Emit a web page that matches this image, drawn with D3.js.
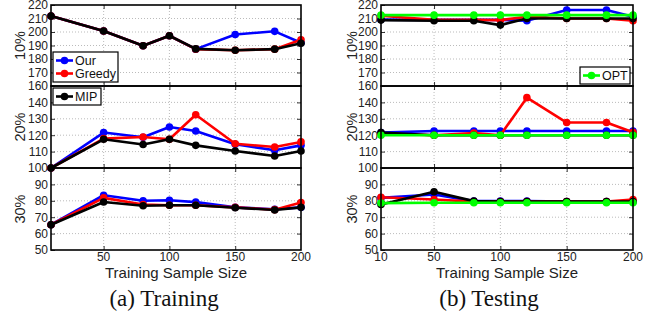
<!DOCTYPE html>
<html>
<head>
<meta charset="utf-8">
<script src="https://cdn.jsdelivr.net/npm/d3@7"></script>
<style>
  body { margin: 0; background: #fff; }
  svg { display: block; }
  .tick text { font-family: "Liberation Sans", Arial, sans-serif; font-size: 12px; fill: #222; }
  .domain { display: none; }
</style>
</head>
<body>
<div id="chart"></div>
<script>
// sample sizes on the x axis
var xVals = [10, 50, 80, 100, 120, 150, 180, 200];
var seriesNames = ["Our", "Greedy", "MIP", "OPT"];
var seriesColors = ["#0000ff", "#ff0000", "#000000", "#00ff00"];

// (a) training
var trainOur10 = [211.8, 200.7, 189.8, 197.2, 187.3, 198.2, 200.5, 192.0];
var trainGreedy10 = [211.8, 200.7, 189.8, 197.2, 187.3, 186.5, 187.3, 194.3];
var trainMIP10 = [211.8, 200.7, 189.8, 197.2, 187.5, 186.5, 187.3, 191.7];
var trainOur20 = [100, 121.6, 118.7, 125.0, 122.6, 114.5, 110.8, 113.8];
var trainGreedy20 = [100, 117.9, 118.9, 117.5, 132.5, 114.8, 112.8, 115.9];
var trainMIP20 = [100, 117.5, 114.3, 117.5, 113.8, 110.4, 107.3, 110.4];
var trainOur30 = [65.4, 83.4, 80.0, 80.3, 79.2, 76.0, 74.8, 76.0];
var trainGreedy30 = [65.4, 81.8, 77.7, 77.3, 77.3, 76.0, 74.6, 79.0];
var trainMIP30 = [65.4, 79.3, 77.0, 77.3, 77.3, 75.8, 74.4, 76.0];

// (b) testing
var testOur10 = [209.2, 209.0, 209.0, 209.0, 208.3, 216.3, 216.3, 211.3];
var testGreedy10 = [212.0, 209.0, 209.0, 208.8, 211.3, 210.0, 210.0, 208.3];
var testMIP10 = [208.8, 208.3, 208.3, 205.1, 210.0, 210.0, 210.0, 210.0];
var testOPT10 = [212.5, 212.5, 212.5, 212.5, 212.5, 212.5, 212.5, 212.5];
var testOur20 = [121.6, 122.6, 122.6, 122.6, 122.6, 122.6, 122.6, 122.6];
var testGreedy20 = [121.0, 120.0, 121.3, 120.0, 142.9, 127.7, 127.7, 121.8];
var testMIP20 = [121.6, 120.0, 120.0, 120.0, 120.0, 120.0, 120.0, 120.0];
var testOPT20 = [120, 120, 120, 120, 120, 120, 120, 120];
var testOur30 = [81.8, 83.8, 79.8, 79.8, 79.8, 79.6, 79.6, 79.6];
var testGreedy30 = [82.2, 80.8, 79.5, 79.5, 79.5, 79.5, 79.5, 80.8];
var testMIP30 = [77.7, 85.5, 79.8, 79.6, 79.6, 79.6, 79.6, 79.6];
var testOPT30 = [78.6, 78.8, 78.8, 78.8, 78.8, 78.8, 78.8, 78.8];

// per-row y ranges and labelled ticks
var rowLabels = ["10%", "20%", "30%"];
var rowDomains = [[160, 220], [100, 150], [50, 100]];
var rowTicks = [[160, 170, 180, 190, 200, 210, 220], [100, 110, 120, 130, 140], [50, 60, 70, 80, 90]];
var rowGrid = [[170, 180, 190, 200, 210], [110, 120, 130, 140], [60, 70, 80, 90]];
var xGrid = [50, 100, 150];

var W = 662, H = 322;
var rowTop = [5, 86, 168], rowBot = [86, 168, 250];

var svg = d3.select("#chart").append("svg").attr("width", W).attr("height", H);

var panels = [
  {x0: 51, x1: 301, xTicks: [50, 100, 150, 200], caption: "(a) Training", cx: 164, labelX: 19,
   rows: [[trainOur10, trainGreedy10, trainMIP10], [trainOur20, trainGreedy20, trainMIP20], [trainOur30, trainGreedy30, trainMIP30]]},
  {x0: 381, x1: 633, xTicks: [10, 50, 100, 150, 200], caption: "(b) Testing", cx: 489, labelX: 351,
   rows: [[testOur10, testGreedy10, testMIP10, testOPT10], [testOur20, testGreedy20, testMIP20, testOPT20], [testOur30, testGreedy30, testMIP30, testOPT30]]}
];

panels.forEach(function(p) {
  var x = d3.scaleLinear().domain([10, 200]).range([p.x0, p.x1]);

  p.rows.forEach(function(rowSeries, r) {
    var y = d3.scaleLinear().domain(rowDomains[r]).range([rowBot[r], rowTop[r]]);
    var g = svg.append("g");

    // grid
    g.selectAll(".hg").data(rowGrid[r]).enter().append("line")
      .attr("x1", p.x0).attr("x2", p.x1)
      .attr("y1", d => y(d)).attr("y2", d => y(d))
      .attr("stroke", "#aaa").attr("stroke-width", 0.8).attr("stroke-dasharray", "1,2");
    g.selectAll(".vg").data(xGrid).enter().append("line")
      .attr("x1", d => x(d)).attr("x2", d => x(d))
      .attr("y1", rowTop[r]).attr("y2", rowBot[r])
      .attr("stroke", "#aaa").attr("stroke-width", 0.8).attr("stroke-dasharray", "1,2");

    // axes (inward ticks)
    g.append("g").attr("transform", "translate(" + p.x0 + ",0)")
      .call(d3.axisLeft(y).tickValues(rowTicks[r]).tickSize(-4).tickPadding(3).tickFormat(d3.format("d")));
    g.append("g").attr("transform", "translate(" + p.x1 + ",0)")
      .call(d3.axisRight(y).tickValues(rowGrid[r]).tickSize(-4).tickFormat(""));
    g.append("g").attr("transform", "translate(0," + rowBot[r] + ")")
      .call(d3.axisBottom(x).tickValues(xGrid).tickSize(-4).tickFormat(""));
    g.append("g").attr("transform", "translate(0," + rowTop[r] + ")")
      .call(d3.axisTop(x).tickValues(xGrid).tickSize(-4).tickFormat(""));
    g.selectAll(".tick line").attr("stroke", "#000").attr("stroke-width", 0.8);

    // series
    var line = d3.line().x((d, i) => x(xVals[i])).y(d => y(d));
    rowSeries.forEach(function(vals, s) {
      g.append("path").datum(vals).attr("d", line)
        .attr("fill", "none").attr("stroke", seriesColors[s]).attr("stroke-width", 2.6)
        .attr("stroke-linejoin", "round");
      g.selectAll(".m" + s).data(vals).enter().append("circle")
        .attr("cx", (d, i) => x(xVals[i])).attr("cy", d => y(d)).attr("r", 3.8)
        .attr("fill", seriesColors[s]);
    });

    // box
    g.append("rect").attr("x", p.x0).attr("y", rowTop[r])
      .attr("width", p.x1 - p.x0).attr("height", rowBot[r] - rowTop[r])
      .attr("fill", "none").attr("stroke", "#000").attr("stroke-width", 1.6);

    // row label
    svg.append("text")
      .attr("transform", "translate(" + (p.labelX + 6) + "," + ((rowTop[r] + rowBot[r]) / 2) + ") rotate(-90)")
      .attr("text-anchor", "middle")
      .style("font-family", "Liberation Sans, Arial, sans-serif").style("font-size", "14.5px").style("fill", "#222")
      .text(rowLabels[r]);
  });

  // x tick labels
  svg.selectAll(null).data(p.xTicks).enter().append("text")
    .attr("x", d => x(d)).attr("y", 261).attr("text-anchor", "middle")
    .style("font-family", "Liberation Sans, Arial, sans-serif").style("font-size", "12px").style("fill", "#222")
    .text(d => d);

  svg.append("text").attr("x", (p.x0 + p.x1) / 2).attr("y", 278).attr("text-anchor", "middle")
    .style("font-family", "Liberation Sans, Arial, sans-serif").style("font-size", "15px").style("fill", "#222")
    .text("Training Sample Size");

  svg.append("text").attr("x", p.cx).attr("y", 306).attr("text-anchor", "middle")
    .style("font-family", "Liberation Serif, Times New Roman, serif").style("font-size", "23px").style("fill", "#111")
    .text(p.caption);
});

// legends
function legend(x0, y0, w, items) {
  var h = 4 + items.length * 13;
  var g = svg.append("g");
  g.append("rect").attr("x", x0).attr("y", y0).attr("width", w).attr("height", h)
    .attr("fill", "#fff").attr("stroke", "#000").attr("stroke-width", 1.2);
  items.forEach(function(s, i) {
    var cy = y0 + 8.5 + i * 13;
    g.append("line").attr("x1", x0 + 3).attr("x2", x0 + 20).attr("y1", cy).attr("y2", cy)
      .attr("stroke", seriesColors[s]).attr("stroke-width", 2.6);
    g.append("circle").attr("cx", x0 + 11.5).attr("cy", cy).attr("r", 3.8).attr("fill", seriesColors[s]);
    g.append("text").attr("x", x0 + 22).attr("y", cy + 4.3)
      .style("font-family", "Liberation Sans, Arial, sans-serif").style("font-size", "12.5px").style("fill", "#111")
      .text(seriesNames[s]);
  });
}
legend(53, 52, 65, [0, 1]);
legend(53, 88, 48, [2]);
legend(580, 67, 50, [3]);
</script>
</body>
</html>
